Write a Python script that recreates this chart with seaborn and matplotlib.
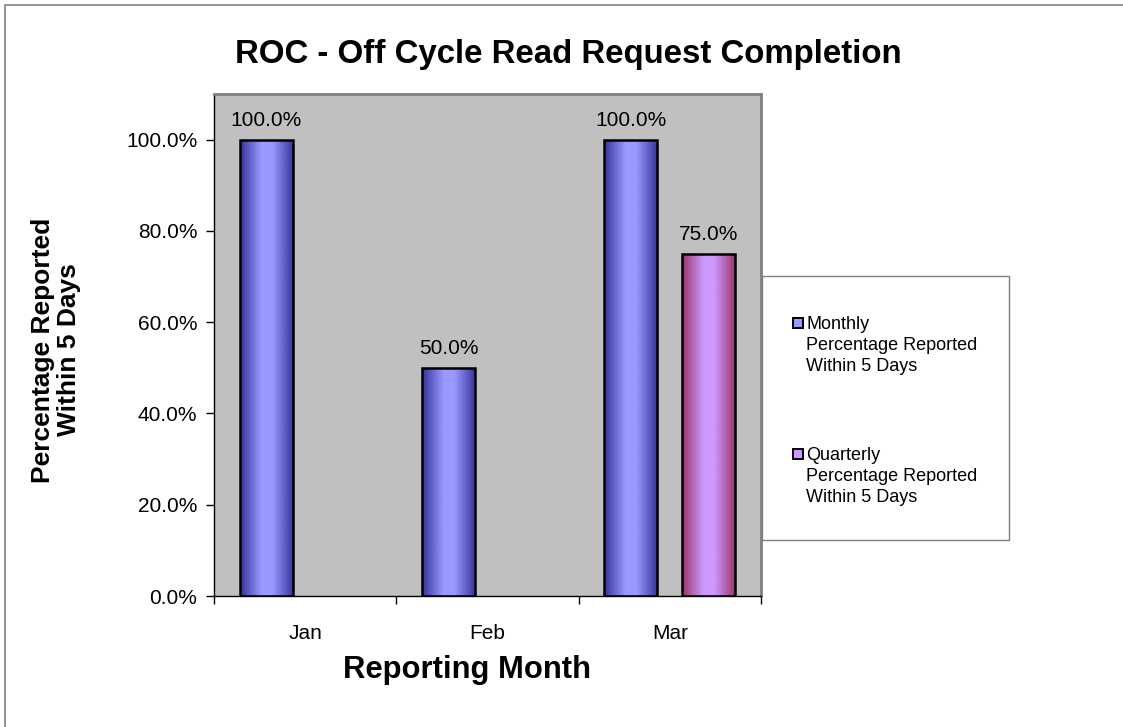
import numpy as np
import pandas as pd
import matplotlib
matplotlib.use("Agg")
import matplotlib.pyplot as plt
from matplotlib.patches import Rectangle
from matplotlib.colors import to_rgb
import seaborn as sns

# ---- data ----
months = ["Jan", "Feb", "Mar"]
series_names = ["Monthly\nPercentage Reported\nWithin 5 Days",
                "Quarterly\nPercentage Reported\nWithin 5 Days"]
monthly_pct = [100.0, 50.0, 100.0]
quarterly_pct = [np.nan, np.nan, 75.0]
y_ticks = [0, 20, 40, 60, 80, 100]

title = "ROC - Off Cycle Read Request Completion"
x_label = "Reporting Month"
y_label = "Percentage Reported\nWithin 5 Days"

light_cols = ["#9999FF", "#CC99FF"]
dark_cols = ["#333399", "#993366"]

df = pd.DataFrame({
    "Month": months * 2,
    "Series": [series_names[0]] * 3 + [series_names[1]] * 3,
    "Value": monthly_pct + quarterly_pct,
})

sns.set_theme(style="white")
plt.rcParams["font.family"] = ["Liberation Sans", "DejaVu Sans"]
plt.rcParams["text.color"] = "black"
plt.rcParams["axes.labelcolor"] = "black"
plt.rcParams["xtick.color"] = "black"
plt.rcParams["ytick.color"] = "black"

fig = plt.figure(figsize=(11.23, 7.27), dpi=100)
ax = fig.add_axes([214 / 1123, 1 - 596 / 727, (761 - 214) / 1123, (596 - 94) / 727])
ax.set_facecolor("#C0C0C0")

sns.barplot(data=df, x="Month", y="Value", hue="Series", hue_order=series_names,
            order=months, palette=light_cols, width=0.857, gap=0.32,
            edgecolor="black", linewidth=1.8, legend=False, ax=ax, zorder=3)

# gradient fill clipped to each bar: dark edges, light centre
t = np.linspace(0, 1, 256)
u = np.minimum(t, 1 - t)
prof = np.clip(u / 0.40, 0, 1)
for cont, dk, lt in zip(ax.containers, dark_cols, light_cols):
    d = np.array(to_rgb(dk)); l = np.array(to_rgb(lt))
    cols = d[None, :] + (l - d)[None, :] * prof[:, None]
    for p in cont.patches:
        h = p.get_height()
        if not np.isfinite(h) or h == 0:
            continue
        x0, y0, w = p.get_x(), p.get_y(), p.get_width()
        im = ax.imshow(cols[None, :, :], extent=[x0, x0 + w, y0, y0 + h],
                       aspect="auto", zorder=2.5, interpolation="bilinear")
        im.set_clip_path(p)
        p.set_facecolor("none")
    labels = ["" if not np.isfinite(v) else f"{v:.1f}%" for v in cont.datavalues]
    ax.bar_label(cont, labels=labels, padding=7, fontsize=15, color="black")

ax.set_xlim(-0.5, 2.5)
ax.set_ylim(0, 110)
ax.set_yticks(y_ticks)
ax.set_yticklabels([f"{v:.1f}%" for v in y_ticks], fontsize=15)
ax.set_xticks(range(len(months)))
ax.set_xticklabels(months, fontsize=15)
ax.set_xticks([-0.5, 0.5, 1.5, 2.5], minor=True)
ax.tick_params(axis="x", which="major", length=0, pad=20)
ax.tick_params(axis="x", which="minor", length=6, width=1, direction="out", color="black", bottom=True)
ax.tick_params(axis="y", length=6, width=1, direction="out", color="black", left=True, pad=6)

for sp in ["top", "right"]:
    ax.spines[sp].set_color("#808080")
    ax.spines[sp].set_linewidth(2)
    ax.spines[sp].set_visible(True)
for sp in ["left", "bottom"]:
    ax.spines[sp].set_color("black")
    ax.spines[sp].set_linewidth(1)

ax.set_xlabel(x_label, fontsize=22.3, fontweight="bold")
ax.xaxis.set_label_coords((467 - 214) / 547, (596 - 670) / 502)
ax.xaxis.label.set_va("center")
ax.set_ylabel(y_label, fontsize=19, fontweight="bold", linespacing=1.15)
ax.yaxis.set_label_coords((56 - 214) / 547, (596 - 350) / 502)
ax.yaxis.label.set_va("center")

fig.suptitle(title, x=568 / 1123, y=1 - 55 / 727, va="center",
             fontsize=23.8, fontweight="bold", color="black")

# legend box (drawn manually in figure coords)
W, H = 1123, 727
fig.patches.append(Rectangle((762 / W, 1 - 540 / H), (1009 - 762) / W, (540 - 276) / H,
                             transform=fig.transFigure, facecolor="white",
                             edgecolor="#808080", linewidth=1, zorder=5))
entry_mids = [323, 454]
for lab, lt, ymid in zip(series_names, light_cols, entry_mids):
    fig.patches.append(Rectangle((793 / W, 1 - (ymid + 5) / H), 10 / W, 10 / H,
                                 transform=fig.transFigure, facecolor=lt,
                                 edgecolor="black", linewidth=1.4, zorder=6))
    fig.text(806 / W, 1 - (ymid - 7) / H, lab, fontsize=13, va="top", ha="left",
             linespacing=1.32, zorder=7, color="black")

# outer chart border (top/left visible)
fig.patches.append(Rectangle((5 / W, -0.05), 1.2, 1 - 5 / H + 0.05, transform=fig.transFigure,
                             facecolor="none", edgecolor="#808080", linewidth=1.2, zorder=1))

fig.savefig("out.png", dpi=100)
